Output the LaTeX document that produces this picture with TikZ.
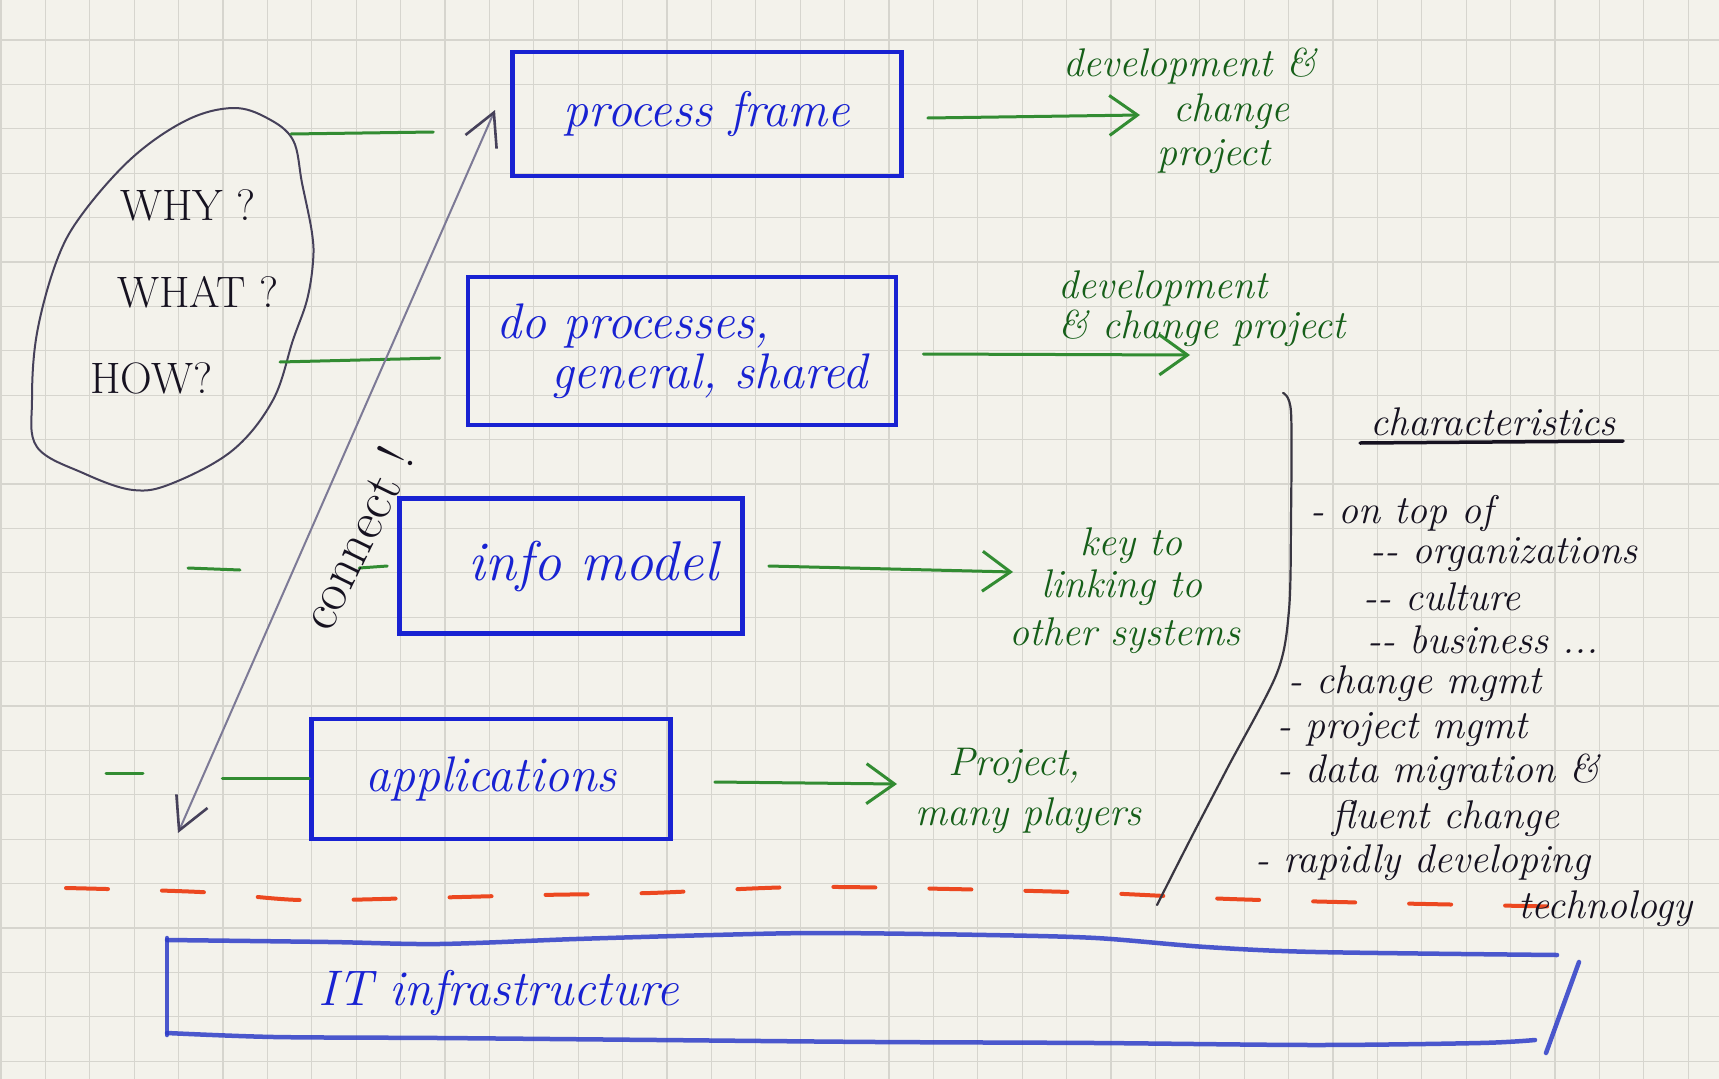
\documentclass[tikz,border=0pt]{standalone}
\usetikzlibrary{arrows.meta}

\definecolor{paper}{RGB}{243,242,235}
\definecolor{gridc}{RGB}{214,213,206}
\definecolor{penblue}{RGB}{24,34,210}
\definecolor{itblue}{RGB}{45,60,200}
\definecolor{pengreen}{RGB}{50,140,50}
\definecolor{inkgreen}{RGB}{22,95,25}
\definecolor{ink}{RGB}{22,18,32}
\definecolor{pencil}{RGB}{125,122,150}
\definecolor{pencildark}{RGB}{70,65,90}
\definecolor{penred}{RGB}{236,72,32}

\tikzset{
  gridline/.style={draw=gridc, line width=1.3pt},
  layerbox/.style={draw=penblue, line width=4.5pt, rectangle, inner sep=0pt,
    text=penblue, font=\fontsize{50}{50}\selectfont\itshape},
  bluetext/.style={text=penblue, font=\fontsize{50}{50}\selectfont\itshape,
    inner sep=0pt, anchor=base west},
  gline/.style={draw=pengreen, line width=3pt, line cap=round},
  garrow/.style={gline, -{Straight Barb[length=28pt,width=40pt,line width=3pt]}},
  gnote/.style={text=inkgreen, font=\fontsize{40}{44}\selectfont\itshape,
    anchor=base west, inner sep=0pt},
  bnote/.style={text=ink, font=\fontsize{40}{44}\selectfont\itshape,
    anchor=base west, inner sep=0pt},
  qnote/.style={text=ink, font=\fontsize{44}{44}\selectfont,
    anchor=base west, inner sep=0pt},
  inkline/.style={draw=ink!85, line width=2.2pt, line cap=round},
  pencilline/.style={draw=pencil, line width=2pt, line cap=round},
  bubbleline/.style={draw=pencildark, line width=2pt, line cap=round},
  pencilarrow/.style={pencilline,
    {Straight Barb[length=32pt,width=34pt,line width=2.6pt,color=pencildark]}-{Straight Barb[length=32pt,width=34pt,line width=2.6pt,color=pencildark]}},
  redline/.style={draw=penred, line width=4pt, line cap=round, dash pattern=on 42pt off 54pt},
  itline/.style={draw=itblue, line width=4.5pt, line cap=round, opacity=0.85},
}

\begin{document}
\begin{tikzpicture}[x=1pt,y=-1pt]
% squared paper
\fill[paper] (0,0) rectangle (1719,1079);
\useasboundingbox (0,0) rectangle (1719,1079);
\foreach \k in {0,...,38} \draw[gridline] ({1+44.4*\k},0) -- ({1+44.4*\k},1079);
\foreach \k in {1,...,24} \draw[gridline] (0,{-4.4+44.4*\k}) -- (1719,{-4.4+44.4*\k});

% the question bubble
\draw[bubbleline] plot[smooth cycle, tension=0.6] coordinates {
  (233,108) (267,118) (293,140) (302,183) (312,233) (313,262) (307,300)
  (293,340) (273,400) (233,450) (173,483) (133,490) (83,473) (37,447)
  (32,400) (37,333) (57,260) (83,213) (133,157) (187,120)};
\node[qnote] (why)  at (120,220) {WHY ?};
\node[qnote] (what) at (117,307) {WHAT ?};
\node[qnote] (how)  at (90,393)  {HOW?};
\coordinate (whyEdge) at (291,134);
\coordinate (howEdge) at (280,362);

% layers
\node[layerbox, minimum width=389pt, minimum height=124pt] (pf) at (707,114) {process frame};
\node[layerbox, minimum width=428pt, minimum height=148pt, align=left] (dp) at (682,351)
  {do processes,\\\hspace*{1.1em}general, shared};
\node[layerbox, minimum width=343pt, minimum height=135pt,
  font=\fontsize{56}{56}\selectfont\itshape] (im) at (571,566) {\hspace*{0.8em}info model};
\node[layerbox, minimum width=359pt, minimum height=120pt] (ap) at (491,779) {applications};

% links from the questions to the layers
\draw[gline] (whyEdge) -- ([xshift=-77pt,yshift=-18pt]pf.west);
\draw[gline] (howEdge) -- ([xshift=-26pt,yshift=-7pt]dp.west);
\coordinate (imDash) at (188,568);
\draw[gline] (imDash) -- ++(52,2);
\draw[gline] ([xshift=-38pt,yshift=-2pt]im.west) -- ([xshift=-10pt]im.west);
\coordinate (apDash) at (106,773);
\draw[gline] (apDash) -- ++(37,0);
\draw[gline] ([xshift=-87pt,yshift=1pt]ap.west) -- ([yshift=1pt]ap.west);

% connect arrow
\coordinate (cLow) at (178,833);
\coordinate (cHigh) at (495,110);
\draw[pencilarrow] (cLow) -- (cHigh);
\node[text=ink, font=\fontsize{54}{54}\selectfont, rotate=64, inner sep=0pt] (conn) at (356,538) {connect !};

% notes on the right of each layer
\coordinate (pfTip) at (1140,115);
\coordinate (dpTip) at (1190,355);
\coordinate (imTip) at (1013,572);
\coordinate (apTip) at (897,784);
\draw[garrow] ([xshift=24pt,yshift=-4pt]pf.east) -- (pfTip);
\draw[garrow] ([xshift=25pt,yshift=-3pt]dp.east) -- (dpTip);
\draw[garrow] ([xshift=24pt]im.east) -- (imTip);
\draw[garrow] ([xshift=42pt,yshift=-3pt]ap.east) -- (apTip);

\node[gnote] (n1a) at (1063,76)  {development \&};
\node[gnote] (n1b) at (1173,121) {change};
\node[gnote] (n1c) at (1157,165) {project};
\node[gnote] (n2a) at (1058,298) {development};
\node[gnote] (n2b) at (1058,338) {\& change project};
\node[gnote] (n3a) at (1080,555) {key to};
\node[gnote] (n3b) at (1041,597) {linking to};
\node[gnote] (n3c) at (1009,645) {other systems};
\node[gnote] (n4a) at (948,775)  {Project,};
\node[gnote] (n4b) at (915,825)  {many players};

% infrastructure boundary
\draw[redline] plot[smooth] coordinates {
  (66,888) (200,892) (300,900) (420,898) (540,895) (650,893) (800,887)
  (950,889) (1100,893) (1230,899) (1380,903) (1575,907)};

% characteristics column
\draw[inkline] plot[smooth] coordinates {
  (1283,393) (1291,412) (1291,520) (1289,610) (1277,673) (1228,767) (1190,840) (1157,905)};
\node[bnote] (chr) at (1370,435) {characteristics};
\draw[ink, line width=3.5pt, line cap=round] (1360,443) -- (1623,441);
\node[bnote] (c1)  at (1310,523) {- on top of};
\node[bnote] (c2)  at (1370,563) {-{}- organizations};
\node[bnote] (c3)  at (1363,610) {-{}- culture};
\node[bnote] (c4)  at (1367,653) {-{}- business ...};
\node[bnote] (c5)  at (1288,693) {- change mgmt};
\node[bnote] (c6)  at (1277,738) {- project mgmt};
\node[bnote] (c7)  at (1277,782) {- data migration \&};
\node[bnote] (c8)  at (1332,828) {fluent change};
\node[bnote] (c9)  at (1255,872) {- rapidly developing};
\node[bnote] (c10) at (1518,918) {technology};

% IT infrastructure
\draw[itline] plot[smooth] coordinates {
  (167,940) (329,942) (439,944) (576,939) (713,935) (822,933) (987,935)
  (1096,938) (1206,947) (1316,952) (1557,955)};
\draw[itline] plot[smooth] coordinates {
  (167,1033) (274,1037) (439,1038) (658,1040) (877,1042) (1096,1043)
  (1316,1045) (1480,1043) (1535,1040)};
\draw[itline] (167,938) -- (167,1035);
\draw[itline] (1579,962) -- (1546,1053);
\node[bluetext] (itl) at (318,1005) {IT infrastructure};
\end{tikzpicture}
\end{document}
